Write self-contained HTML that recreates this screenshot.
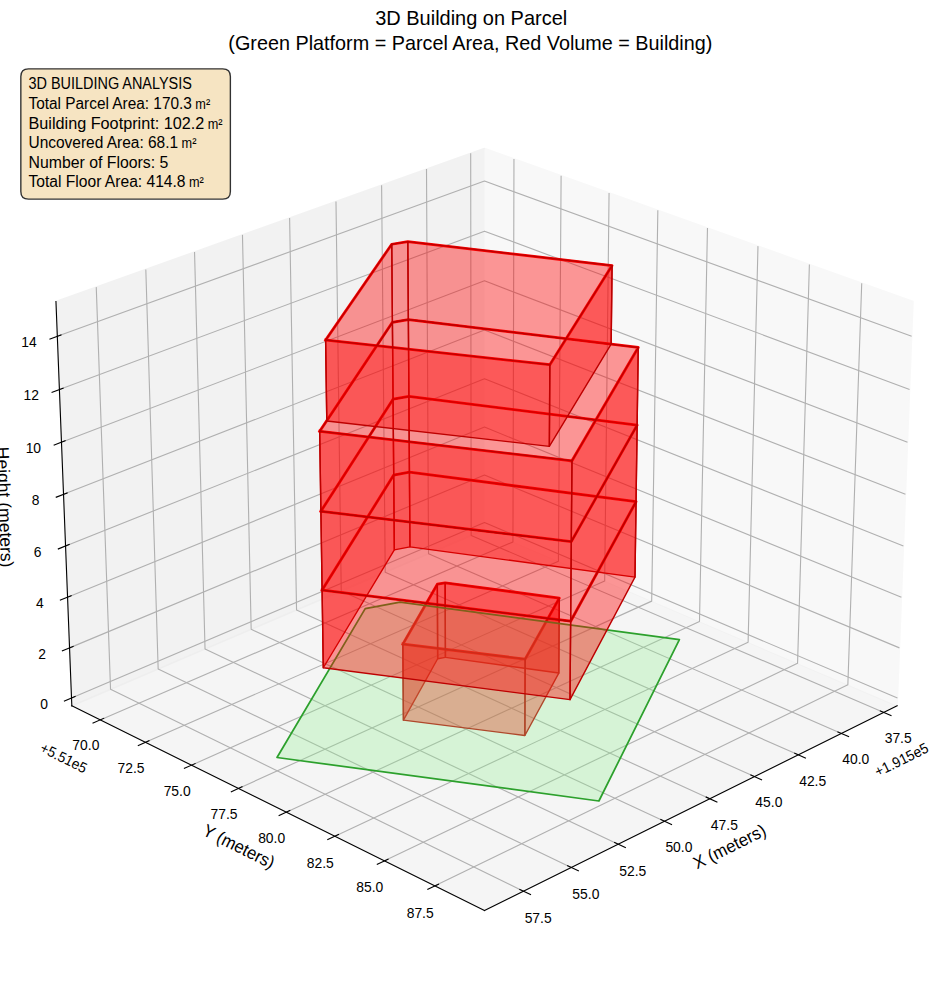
<!DOCTYPE html>
<html><head><meta charset="utf-8"><title>3D Building on Parcel</title>
<style>html,body{margin:0;padding:0;background:#fff;overflow:hidden;width:944px;height:992px}svg{display:block}</style>
</head><body>
<svg width="944" height="992" viewBox="0 0 679.68 714.24" version="1.1">
<defs>
<style type="text/css">*{stroke-linejoin: round; stroke-linecap: butt}</style>
</defs>
<g id="figure_1">
<g id="patch_1">
<path d="M 0 714.24 L 679.68 714.24 L 679.68 0 L 0 0 z
" style="fill: #ffffff"/>
</g>
<g id="patch_2">
<path d="M 7.2 707.04 L 672.48 707.04 L 672.48 41.76 L 7.2 41.76 z
" style="fill: #ffffff"/>
</g>
<g id="pane3d_1">
<g id="patch_3">
<path d="M 348.83027 381.448424 L 645.942828 508.214589 L 657.369594 217.112684 L 348.83027 106.825698 " style="fill: #f2f2f2; opacity: 0.5; stroke: #f2f2f2; stroke-linejoin: miter"/>
</g>
</g>
<g id="pane3d_2">
<g id="patch_4">
<path d="M 348.83027 381.448424 L 51.717712 508.214589 L 40.290947 217.112684 L 348.83027 106.825698 " style="fill: #e6e6e6; opacity: 0.5; stroke: #e6e6e6; stroke-linejoin: miter"/>
</g>
</g>
<g id="pane3d_3">
<g id="patch_5">
<path d="M 348.83027 381.448424 L 51.717712 508.214589 L 348.83027 655.501782 L 645.942828 508.214589 " style="fill: #ececec; opacity: 0.5; stroke: #ececec; stroke-linejoin: miter"/>
</g>
</g>
<g id="grid3d_1">
<g id="Line3DCollection_1">
<path d="M 636.40257 512.943968 L 339.237956 385.541085 L 338.894801 110.377119 " style="fill: none; stroke: #b0b0b0; stroke-width: 0.8"/>
<path d="M 605.843394 528.093025 L 308.535397 398.640651 L 307.082363 121.748434 " style="fill: none; stroke: #b0b0b0; stroke-width: 0.8"/>
<path d="M 574.772475 543.495769 L 277.355156 411.944025 L 274.756983 133.303099 " style="fill: none; stroke: #b0b0b0; stroke-width: 0.8"/>
<path d="M 543.17685 559.158624 L 245.685998 425.456001 L 241.906155 145.045586 " style="fill: none; stroke: #b0b0b0; stroke-width: 0.8"/>
<path d="M 511.043114 575.088236 L 213.516333 439.181524 L 208.516962 156.98051 " style="fill: none; stroke: #b0b0b0; stroke-width: 0.8"/>
<path d="M 478.357403 591.291478 L 180.834199 453.125696 L 174.57606 169.112642 " style="fill: none; stroke: #b0b0b0; stroke-width: 0.8"/>
<path d="M 445.10537 607.775461 L 147.627255 467.293784 L 140.06966 181.44691 " style="fill: none; stroke: #b0b0b0; stroke-width: 0.8"/>
<path d="M 411.272169 624.547547 L 113.882755 481.691226 L 104.983513 193.988409 " style="fill: none; stroke: #b0b0b0; stroke-width: 0.8"/>
<path d="M 376.84243 641.615353 L 79.587542 496.323636 L 69.302882 206.742405 " style="fill: none; stroke: #b0b0b0; stroke-width: 0.8"/>
</g>
</g>
<g id="grid3d_2">
<g id="Line3DCollection_2">
<path d="M 370.054786 114.412374 L 369.319718 390.19046 L 72.100157 518.31875 " style="fill: none; stroke: #b0b0b0; stroke-width: 0.8"/>
<path d="M 403.997388 126.545113 L 402.071097 404.164177 L 104.713266 534.486001 " style="fill: none; stroke: #b0b0b0; stroke-width: 0.8"/>
<path d="M 438.522573 138.886096 L 435.364823 418.369291 L 137.90782 550.941491 " style="fill: none; stroke: #b0b0b0; stroke-width: 0.8"/>
<path d="M 473.645469 151.440731 L 469.214478 432.811599 L 171.699508 567.692997 " style="fill: none; stroke: #b0b0b0; stroke-width: 0.8"/>
<path d="M 509.381734 164.214613 L 503.634104 447.497091 L 206.10459 584.74858 " style="fill: none; stroke: #b0b0b0; stroke-width: 0.8"/>
<path d="M 545.747576 177.213537 L 538.63822 462.431961 L 241.139919 602.116595 " style="fill: none; stroke: #b0b0b0; stroke-width: 0.8"/>
<path d="M 582.759781 190.443502 L 574.241841 477.622616 L 276.822974 619.805706 " style="fill: none; stroke: #b0b0b0; stroke-width: 0.8"/>
<path d="M 620.435735 203.910723 L 610.460501 493.075685 L 313.171885 637.8249 " style="fill: none; stroke: #b0b0b0; stroke-width: 0.8"/>
</g>
</g>
<g id="grid3d_3">
<g id="Line3DCollection_3">
<path d="M 51.498283 502.624521 L 348.83027 376.16095 L 646.162258 502.624521 " style="fill: none; stroke: #b0b0b0; stroke-width: 0.8"/>
<path d="M 50.079378 466.477299 L 348.83027 341.983534 L 647.581163 466.477299 " style="fill: none; stroke: #b0b0b0; stroke-width: 0.8"/>
<path d="M 48.646866 429.983424 L 348.83027 307.501409 L 649.013674 429.983424 " style="fill: none; stroke: #b0b0b0; stroke-width: 0.8"/>
<path d="M 47.20055 393.137887 L 348.83027 272.710482 L 650.45999 393.137887 " style="fill: none; stroke: #b0b0b0; stroke-width: 0.8"/>
<path d="M 45.74023 355.93558 L 348.83027 237.606584 L 651.920311 355.93558 " style="fill: none; stroke: #b0b0b0; stroke-width: 0.8"/>
<path d="M 44.265701 318.371295 L 348.83027 202.185476 L 653.39484 318.371295 " style="fill: none; stroke: #b0b0b0; stroke-width: 0.8"/>
<path d="M 42.776754 280.439723 L 348.83027 166.442836 L 654.883787 280.439723 " style="fill: none; stroke: #b0b0b0; stroke-width: 0.8"/>
<path d="M 41.273178 242.135452 L 348.83027 130.374268 L 656.387363 242.135452 " style="fill: none; stroke: #b0b0b0; stroke-width: 0.8"/>
</g>
</g>
<g id="axis3d_1">
<g id="line2d_1">
<path d="M 645.942828 508.214589 L 348.83027 655.501782 " style="fill: none; stroke: #000000; stroke-width: 0.8; stroke-linecap: square"/>
</g>
<g id="xtick_1">
<g id="line2d_2">
<path d="M 633.848312 511.848885 L 641.520302 515.138084 " style="fill: none; stroke: #000000; stroke-width: 0.8; stroke-linecap: square"/>
</g>
<g id="text_1">
</g>
</g>
<g id="xtick_2">
<g id="line2d_3">
<path d="M 603.286435 526.979687 L 610.966616 530.323753 " style="fill: none; stroke: #000000; stroke-width: 0.8; stroke-linecap: square"/>
</g>
<g id="text_2">
</g>
</g>
<g id="xtick_3">
<g id="line2d_4">
<path d="M 572.213081 542.363714 L 579.900652 545.764031 " style="fill: none; stroke: #000000; stroke-width: 0.8; stroke-linecap: square"/>
</g>
<g id="text_3">
</g>
</g>
<g id="xtick_4">
<g id="line2d_5">
<path d="M 540.615303 558.007377 L 548.30942 561.465377 " style="fill: none; stroke: #000000; stroke-width: 0.8; stroke-linecap: square"/>
</g>
<g id="text_4">
</g>
</g>
<g id="xtick_5">
<g id="line2d_6">
<path d="M 508.479712 573.917304 L 516.179482 577.434468 " style="fill: none; stroke: #000000; stroke-width: 0.8; stroke-linecap: square"/>
</g>
<g id="text_5">
</g>
</g>
<g id="xtick_6">
<g id="line2d_7">
<path d="M 475.792459 590.100352 L 483.496941 593.67821 " style="fill: none; stroke: #000000; stroke-width: 0.8; stroke-linecap: square"/>
</g>
<g id="text_6">
</g>
</g>
<g id="xtick_7">
<g id="line2d_8">
<path d="M 442.539216 606.563615 L 450.247418 610.203753 " style="fill: none; stroke: #000000; stroke-width: 0.8; stroke-linecap: square"/>
</g>
<g id="text_7">
</g>
</g>
<g id="xtick_8">
<g id="line2d_9">
<path d="M 408.705154 623.314435 L 416.416029 627.018492 " style="fill: none; stroke: #000000; stroke-width: 0.8; stroke-linecap: square"/>
</g>
<g id="text_8">
</g>
</g>
<g id="xtick_9">
<g id="line2d_10">
<path d="M 374.274921 640.360411 L 381.987366 644.130086 " style="fill: none; stroke: #000000; stroke-width: 0.8; stroke-linecap: square"/>
</g>
<g id="text_9">
</g>
</g>
<g id="text_10">
</g>
<g id="text_11">
</g>
</g>
<g id="axis3d_2">
<g id="line2d_11">
<path d="M 51.717712 508.214589 L 348.83027 655.501782 " style="fill: none; stroke: #000000; stroke-width: 0.8; stroke-linecap: square"/>
</g>
<g id="xtick_10">
<g id="line2d_12">
<path d="M 74.655409 517.217207 L 66.980408 520.525821 " style="fill: none; stroke: #000000; stroke-width: 0.8; stroke-linecap: square"/>
</g>
<g id="text_12">
</g>
</g>
<g id="xtick_11">
<g id="line2d_13">
<path d="M 107.271274 533.364913 L 99.587911 536.732269 " style="fill: none; stroke: #000000; stroke-width: 0.8; stroke-linecap: square"/>
</g>
<g id="text_13">
</g>
</g>
<g id="xtick_12">
<g id="line2d_14">
<path d="M 140.468278 549.800332 L 132.777473 553.22801 " style="fill: none; stroke: #000000; stroke-width: 0.8; stroke-linecap: square"/>
</g>
<g id="text_14">
</g>
</g>
<g id="xtick_13">
<g id="line2d_15">
<path d="M 174.262091 566.531224 L 166.56482 570.020859 " style="fill: none; stroke: #000000; stroke-width: 0.8; stroke-linecap: square"/>
</g>
<g id="text_15">
</g>
</g>
<g id="xtick_14">
<g id="line2d_16">
<path d="M 208.668952 583.56563 L 200.966247 587.118917 " style="fill: none; stroke: #000000; stroke-width: 0.8; stroke-linecap: square"/>
</g>
<g id="text_16">
</g>
</g>
<g id="xtick_15">
<g id="line2d_17">
<path d="M 243.705698 600.911882 L 235.998651 604.530579 " style="fill: none; stroke: #000000; stroke-width: 0.8; stroke-linecap: square"/>
</g>
<g id="text_17">
</g>
</g>
<g id="xtick_16">
<g id="line2d_18">
<path d="M 279.389784 618.578625 L 271.67955 622.264554 " style="fill: none; stroke: #000000; stroke-width: 0.8; stroke-linecap: square"/>
</g>
<g id="text_18">
</g>
</g>
<g id="xtick_17">
<g id="line2d_19">
<path d="M 315.739318 636.574823 L 308.027121 640.329875 " style="fill: none; stroke: #000000; stroke-width: 0.8; stroke-linecap: square"/>
</g>
<g id="text_19">
</g>
</g>
<g id="text_20">
</g>
<g id="text_21">
</g>
</g>
<g id="axis3d_3">
<g id="line2d_20">
<path d="M 51.717712 508.214589 L 40.290947 217.112684 " style="fill: none; stroke: #000000; stroke-width: 0.8; stroke-linecap: square"/>
</g>
<g id="xtick_18">
<g id="line2d_21">
<path d="M 54.053651 501.537651 L 46.378343 504.802173 " style="fill: none; stroke: #000000; stroke-width: 0.8; stroke-linecap: square"/>
</g>
<g id="text_22">
</g>
</g>
<g id="xtick_19">
<g id="line2d_22">
<path d="M 52.647788 465.407006 L 44.933265 468.621758 " style="fill: none; stroke: #000000; stroke-width: 0.8; stroke-linecap: square"/>
</g>
<g id="text_23">
</g>
</g>
<g id="xtick_20">
<g id="line2d_23">
<path d="M 51.22845 428.930076 L 43.474311 432.093951 " style="fill: none; stroke: #000000; stroke-width: 0.8; stroke-linecap: square"/>
</g>
<g id="text_24">
</g>
</g>
<g id="xtick_21">
<g id="line2d_24">
<path d="M 49.795444 392.101861 L 42.001282 395.213725 " style="fill: none; stroke: #000000; stroke-width: 0.8; stroke-linecap: square"/>
</g>
<g id="text_25">
</g>
</g>
<g id="xtick_22">
<g id="line2d_25">
<path d="M 48.348571 354.917261 L 40.513972 357.975957 " style="fill: none; stroke: #000000; stroke-width: 0.8; stroke-linecap: square"/>
</g>
<g id="text_26">
</g>
</g>
<g id="xtick_23">
<g id="line2d_26">
<path d="M 46.887629 317.371077 L 39.012172 320.37542 " style="fill: none; stroke: #000000; stroke-width: 0.8; stroke-linecap: square"/>
</g>
<g id="text_27">
</g>
</g>
<g id="xtick_24">
<g id="line2d_27">
<path d="M 45.41241 279.458011 L 37.495671 282.406788 " style="fill: none; stroke: #000000; stroke-width: 0.8; stroke-linecap: square"/>
</g>
<g id="text_28">
</g>
</g>
<g id="xtick_25">
<g id="line2d_28">
<path d="M 43.922706 241.172657 L 35.964251 244.064629 " style="fill: none; stroke: #000000; stroke-width: 0.8; stroke-linecap: square"/>
</g>
<g id="text_29">
</g>
</g>
<g id="text_30">
</g>
</g>
<g id="axes_1">
<g id="line2d_29">
<path d="M 290.0539 463.787519 L 314.880546 420.626924 L 320.512751 419.601053 L 402.710063 430.660914 L 378.104317 474.57073 L 290.0539 463.787519 " clip-path="url(#p9d511325ca)" style="fill: none; stroke: #ff0000; stroke-width: 2; stroke-linecap: square"/>
</g>
<g id="line2d_30">
<path d="M 231.910551 424.863776 L 283.462081 342.040216 L 294.787526 339.961131 L 457.961206 361.204497 L 410.867826 447.284841 L 231.910551 424.863776 " clip-path="url(#p9d511325ca)" style="fill: none; stroke: #ff0000; stroke-width: 2; stroke-linecap: square"/>
</g>
<g id="line2d_31">
<path d="M 231.043443 368.111351 L 283.000581 287.429253 L 294.406467 285.404658 L 458.740666 306.092954 L 411.333899 389.962523 L 231.043443 368.111351 " clip-path="url(#p9d511325ca)" style="fill: none; stroke: #ff0000; stroke-width: 2; stroke-linecap: square"/>
</g>
<g id="line2d_32">
<path d="M 230.163378 310.510855 L 282.532518 232.041699 L 294.019996 230.073358 L 459.53134 250.188486 L 411.807027 331.772389 L 230.163378 310.510855 " clip-path="url(#p9d511325ca)" style="fill: none; stroke: #ff0000; stroke-width: 2; stroke-linecap: square"/>
</g>
<g id="line2d_33">
<path d="M 234.440348 244.833479 L 282.057751 175.86087 L 293.627996 173.950607 L 440.688806 191.172912 L 395.885947 262.606225 L 234.440348 244.833479 " clip-path="url(#p9d511325ca)" style="fill: none; stroke: #ff0000; stroke-width: 2; stroke-linecap: square"/>
</g>
<g id="Poly3DCollection_1">
<path d="M 315.118637 474.323433 L 320.711226 473.273172 L 320.512751 419.601053 L 314.880546 420.626924 z
" clip-path="url(#p9d511325ca)" style="fill: #ff0000; fill-opacity: 0.4; stroke: #bd0000"/>
<path d="M 320.711226 473.273172 L 402.330028 484.595515 L 402.710063 430.660914 L 320.512751 419.601053 z
" clip-path="url(#p9d511325ca)" style="fill: #ff0000; fill-opacity: 0.4; stroke: #bd0000"/>
<path d="M 290.476299 518.502243 L 315.118637 474.323433 L 314.880546 420.626924 L 290.0539 463.787519 z
" clip-path="url(#p9d511325ca)" style="fill: #ff0000; fill-opacity: 0.4; stroke: #bd0000"/>
<path d="M 402.330028 484.595515 L 377.89267 529.537433 L 378.104317 474.57073 L 402.710063 430.660914 z
" clip-path="url(#p9d511325ca)" style="fill: #ff0000; fill-opacity: 0.4; stroke: #bd0000"/>
<path d="M 377.89267 529.537433 L 290.476299 518.502243 L 290.0539 463.787519 L 378.104317 474.57073 z
" clip-path="url(#p9d511325ca)" style="fill: #ff0000; fill-opacity: 0.4; stroke: #bd0000"/>
</g>
<g id="text_31">
</g>
<g id="text_32">
</g>
<g id="Poly3DCollection_2">
<defs>
<path id="md90a31e73a" d="M 199.442416 -168.842303 L 262.949836 -276.048449 L 288.082142 -280.727515 L 489.167904 -253.728427 L 431.208561 -137.515783 z
" style="stroke: #2ca02c; stroke-width: 1.25"/>
</defs>
<g clip-path="url(#p9d511325ca)">
<use href="#md90a31e73a" x="0" y="714.24" style="fill: #90ee90; fill-opacity: 0.3; stroke: #2ca02c; stroke-width: 1.25"/>
</g>
</g>
<g id="Poly3DCollection_3">
<path d="M 283.917156 395.890808 L 295.163287 393.758939 L 294.787526 339.961131 L 283.462081 342.040216 z
" clip-path="url(#p9d511325ca)" style="fill: #ff0000; fill-opacity: 0.4; stroke: #bd0000"/>
<path d="M 295.163287 393.758939 L 457.192725 415.539869 L 457.961206 361.204497 L 294.787526 339.961131 z
" clip-path="url(#p9d511325ca)" style="fill: #ff0000; fill-opacity: 0.4; stroke: #bd0000"/>
<path d="M 232.764986 480.786721 L 283.917156 395.890808 L 283.462081 342.040216 L 231.910551 424.863776 z
" clip-path="url(#p9d511325ca)" style="fill: #ff0000; fill-opacity: 0.4; stroke: #bd0000"/>
<path d="M 457.192725 415.539869 L 410.408653 503.758612 L 410.867826 447.284841 L 457.961206 361.204497 z
" clip-path="url(#p9d511325ca)" style="fill: #ff0000; fill-opacity: 0.4; stroke: #bd0000"/>
<path d="M 410.408653 503.758612 L 232.764986 480.786721 L 231.910551 424.863776 L 410.867826 447.284841 z
" clip-path="url(#p9d511325ca)" style="fill: #ff0000; fill-opacity: 0.4; stroke: #bd0000"/>
</g>
<g id="Poly3DCollection_4">
<path d="M 283.462081 342.040216 L 294.787526 339.961131 L 294.406467 285.404658 L 283.000581 287.429253 z
" clip-path="url(#p9d511325ca)" style="fill: #ff0000; fill-opacity: 0.4; stroke: #bd0000"/>
<path d="M 294.787526 339.961131 L 457.961206 361.204497 L 458.740666 306.092954 L 294.406467 285.404658 z
" clip-path="url(#p9d511325ca)" style="fill: #ff0000; fill-opacity: 0.4; stroke: #bd0000"/>
<path d="M 231.910551 424.863776 L 283.462081 342.040216 L 283.000581 287.429253 L 231.043443 368.111351 z
" clip-path="url(#p9d511325ca)" style="fill: #ff0000; fill-opacity: 0.4; stroke: #bd0000"/>
<path d="M 457.961206 361.204497 L 410.867826 447.284841 L 411.333899 389.962523 L 458.740666 306.092954 z
" clip-path="url(#p9d511325ca)" style="fill: #ff0000; fill-opacity: 0.4; stroke: #bd0000"/>
<path d="M 410.867826 447.284841 L 231.910551 424.863776 L 231.043443 368.111351 L 411.333899 389.962523 z
" clip-path="url(#p9d511325ca)" style="fill: #ff0000; fill-opacity: 0.4; stroke: #bd0000"/>
</g>
<g id="Poly3DCollection_5">
<path d="M 283.000581 287.429253 L 294.406467 285.404658 L 294.019996 230.073358 L 282.532518 232.041699 z
" clip-path="url(#p9d511325ca)" style="fill: #ff0000; fill-opacity: 0.4; stroke: #bd0000"/>
<path d="M 294.406467 285.404658 L 458.740666 306.092954 L 459.53134 250.188486 L 294.019996 230.073358 z
" clip-path="url(#p9d511325ca)" style="fill: #ff0000; fill-opacity: 0.4; stroke: #bd0000"/>
<path d="M 231.043443 368.111351 L 283.000581 287.429253 L 282.532518 232.041699 L 230.163378 310.510855 z
" clip-path="url(#p9d511325ca)" style="fill: #ff0000; fill-opacity: 0.4; stroke: #bd0000"/>
<path d="M 458.740666 306.092954 L 411.333899 389.962523 L 411.807027 331.772389 L 459.53134 250.188486 z
" clip-path="url(#p9d511325ca)" style="fill: #ff0000; fill-opacity: 0.4; stroke: #bd0000"/>
<path d="M 411.333899 389.962523 L 231.043443 368.111351 L 230.163378 310.510855 L 411.807027 331.772389 z
" clip-path="url(#p9d511325ca)" style="fill: #ff0000; fill-opacity: 0.4; stroke: #bd0000"/>
</g>
<g id="Poly3DCollection_6">
<path d="M 282.532518 232.041699 L 294.019996 230.073358 L 293.627996 173.950607 L 282.057751 175.86087 z
" clip-path="url(#p9d511325ca)" style="fill: #ff0000; fill-opacity: 0.4; stroke: #bd0000"/>
<path d="M 294.019996 230.073358 L 440.028997 247.817978 L 440.688806 191.172912 L 293.627996 173.950607 z
" clip-path="url(#p9d511325ca)" style="fill: #ff0000; fill-opacity: 0.4; stroke: #bd0000"/>
<path d="M 235.291121 303.087223 L 282.532518 232.041699 L 282.057751 175.86087 L 234.440348 244.833479 z
" clip-path="url(#p9d511325ca)" style="fill: #ff0000; fill-opacity: 0.4; stroke: #bd0000"/>
<path d="M 440.028997 247.817978 L 395.532005 321.386526 L 395.885947 262.606225 L 440.688806 191.172912 z
" clip-path="url(#p9d511325ca)" style="fill: #ff0000; fill-opacity: 0.4; stroke: #bd0000"/>
<path d="M 395.532005 321.386526 L 235.291121 303.087223 L 234.440348 244.833479 L 395.885947 262.606225 z
" clip-path="url(#p9d511325ca)" style="fill: #ff0000; fill-opacity: 0.4; stroke: #bd0000"/>
</g>
</g>
</g>
<defs>
<clipPath id="p9d511325ca">
<rect x="7.2" y="41.76" width="665.28" height="665.28"/>
</clipPath>
</defs>
<g transform="scale(0.72)" style="font-family:'Liberation Sans',sans-serif;fill:#000">
<path d="M 28.48 199.12 L 222.73 199.12 Q 230.37 199.12 230.37 191.48 L 230.37 76.48 Q 230.37 68.84 222.73 68.84 L 28.48 68.84 Q 20.84 68.84 20.84 76.48 L 20.84 191.48 Q 20.84 199.12 28.48 199.12 Z" style="fill:#f5deb3;opacity:0.8;stroke:#000;stroke-width:1.389;stroke-linejoin:miter"/>
<text x="884.71" y="742.71" font-size="14.72" textLength="26.99" lengthAdjust="spacingAndGlyphs">37.5</text>
<text x="842.27" y="763.93" font-size="14.72" textLength="26.99" lengthAdjust="spacingAndGlyphs">40.0</text>
<text x="799.18" y="785.52" font-size="14.72" textLength="26.99" lengthAdjust="spacingAndGlyphs">42.5</text>
<text x="755.36" y="807.47" font-size="14.72" textLength="26.99" lengthAdjust="spacingAndGlyphs">45.0</text>
<text x="710.86" y="829.79" font-size="14.72" textLength="26.99" lengthAdjust="spacingAndGlyphs">47.5</text>
<text x="665.4" y="852.5" font-size="14.72" textLength="26.99" lengthAdjust="spacingAndGlyphs">50.0</text>
<text x="619.28" y="875.6" font-size="14.72" textLength="26.99" lengthAdjust="spacingAndGlyphs">52.5</text>
<text x="572.36" y="899.1" font-size="14.72" textLength="26.99" lengthAdjust="spacingAndGlyphs">55.0</text>
<text x="524.66" y="923.02" font-size="14.72" textLength="26.99" lengthAdjust="spacingAndGlyphs">57.5</text>
<text x="877.83" y="777.11" font-size="14.72" textLength="57.81" lengthAdjust="spacingAndGlyphs" transform="rotate(-26.37 877.83 777.11)">+1.915e5</text>
<text x="697.08" y="869.51" font-size="17.67" textLength="78.5" lengthAdjust="spacingAndGlyphs" transform="rotate(-26.37 697.08 869.51)">X (meters)</text>
<text x="72.36" y="750.24" font-size="14.72" textLength="26.99" lengthAdjust="spacingAndGlyphs">70.0</text>
<text x="117.59" y="772.89" font-size="14.72" textLength="26.99" lengthAdjust="spacingAndGlyphs">72.5</text>
<text x="163.63" y="795.95" font-size="14.72" textLength="26.99" lengthAdjust="spacingAndGlyphs">75.0</text>
<text x="210.55" y="819.43" font-size="14.72" textLength="26.99" lengthAdjust="spacingAndGlyphs">77.5</text>
<text x="258.14" y="843.33" font-size="14.72" textLength="26.99" lengthAdjust="spacingAndGlyphs">80.0</text>
<text x="306.73" y="867.67" font-size="14.72" textLength="26.99" lengthAdjust="spacingAndGlyphs">82.5</text>
<text x="356.23" y="892.46" font-size="14.72" textLength="26.99" lengthAdjust="spacingAndGlyphs">85.0</text>
<text x="406.7" y="917.71" font-size="14.72" textLength="26.99" lengthAdjust="spacingAndGlyphs">87.5</text>
<text x="39.07" y="751.3" font-size="14.72" textLength="50.1" lengthAdjust="spacingAndGlyphs" transform="rotate(-333.63 39.07 751.3)">+5.51e5</text>
<text x="201.4" y="834.56" font-size="17.67" textLength="77.8" lengthAdjust="spacingAndGlyphs" transform="rotate(-333.63 201.4 834.56)">Y (meters)</text>
<text x="40.24" y="709.09" font-size="14.72" textLength="7.71" lengthAdjust="spacingAndGlyphs">0</text>
<text x="38.14" y="658.89" font-size="14.72" textLength="7.71" lengthAdjust="spacingAndGlyphs">2</text>
<text x="36.08" y="608.2" font-size="14.72" textLength="7.71" lengthAdjust="spacingAndGlyphs">4</text>
<text x="33.87" y="557.02" font-size="14.72" textLength="7.71" lengthAdjust="spacingAndGlyphs">6</text>
<text x="31.71" y="505.35" font-size="14.72" textLength="7.71" lengthAdjust="spacingAndGlyphs">8</text>
<text x="25.65" y="453.18" font-size="14.72" textLength="15.42" lengthAdjust="spacingAndGlyphs">10</text>
<text x="23.45" y="400.5" font-size="14.72" textLength="15.42" lengthAdjust="spacingAndGlyphs">12</text>
<text x="21.28" y="347.3" font-size="14.72" textLength="15.42" lengthAdjust="spacingAndGlyphs">14</text>
<text x="-3.61" y="447.05" font-size="17.67" textLength="120.7" lengthAdjust="spacingAndGlyphs" transform="rotate(-272.25 -3.61 447.05)">Height (meters)</text>
<text x="28.48" y="89.48" font-size="16.19" textLength="163.37" lengthAdjust="spacingAndGlyphs">3D BUILDING ANALYSIS</text>
<text x="28.48" y="109.08" font-size="16.19" textLength="163.4" lengthAdjust="spacingAndGlyphs">Total Parcel Area: 170.3</text>
<text x="195.3" y="109.08" font-size="14.25" textLength="14.82" lengthAdjust="spacingAndGlyphs">m²</text>
<text x="28.48" y="128.68" font-size="16.19" textLength="175.83" lengthAdjust="spacingAndGlyphs">Building Footprint: 102.2</text>
<text x="207.73" y="128.68" font-size="14.25" textLength="14.82" lengthAdjust="spacingAndGlyphs">m²</text>
<text x="28.48" y="148.28" font-size="16.19" textLength="149.66" lengthAdjust="spacingAndGlyphs">Uncovered Area: 68.1</text>
<text x="181.56" y="148.28" font-size="14.25" textLength="14.82" lengthAdjust="spacingAndGlyphs">m²</text>
<text x="28.48" y="167.88" font-size="16.19" textLength="139.82" lengthAdjust="spacingAndGlyphs">Number of Floors: 5</text>
<text x="28.48" y="187.48" font-size="16.19" textLength="157.09" lengthAdjust="spacingAndGlyphs">Total Floor Area: 414.8</text>
<text x="188.99" y="187.48" font-size="14.25" textLength="14.82" lengthAdjust="spacingAndGlyphs">m²</text>
<text x="375.25" y="25.28" font-size="20.61" textLength="191.96" lengthAdjust="spacingAndGlyphs">3D Building on Parcel</text>
<text x="228.37" y="49.67" font-size="20.61" textLength="484.01" lengthAdjust="spacingAndGlyphs">(Green Platform = Parcel Area, Red Volume = Building)</text>
</g>
</svg>
</body></html>
